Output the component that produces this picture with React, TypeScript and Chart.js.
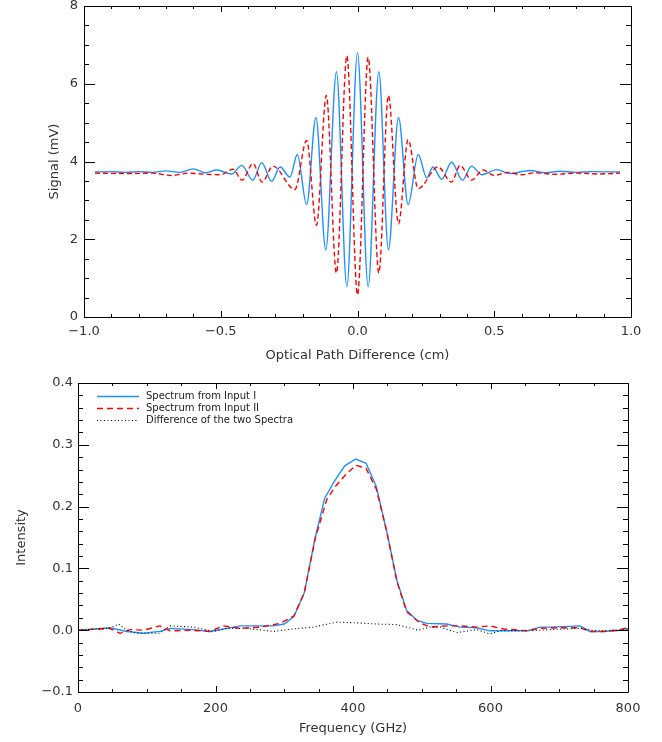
import React, { useEffect, useRef } from 'react';
import { Chart, registerables } from 'chart.js';
Chart.register(...registerables);

// ---------- Top panel: interferograms ----------
const opdI = [-0.96, -0.9, -0.85, -0.8, -0.75, -0.7, -0.65, -0.6, -0.555, -0.515, -0.46, -0.423, -0.383, -0.35, -0.314, -0.283, -0.247, -0.22, -0.186, -0.152, -0.116, -0.077, -0.039, 0, 0.039, 0.078, 0.113, 0.15, 0.185, 0.222, 0.253, 0.276, 0.308, 0.344, 0.384, 0.417, 0.454, 0.509, 0.557, 0.631, 0.686, 0.74, 0.8, 0.86, 0.96];
const signalI = [3.73, 3.74, 3.72, 3.74, 3.72, 3.76, 3.72, 3.81, 3.71, 3.78, 3.68, 3.9, 3.52, 3.97, 3.49, 3.86, 3.6, 4.18, 2.89, 5.13, 1.73, 6.31, 0.78, 6.8, 0.78, 6.31, 1.73, 5.13, 2.89, 4.18, 3.58, 3.86, 3.54, 3.98, 3.52, 3.88, 3.66, 3.79, 3.69, 3.77, 3.71, 3.75, 3.72, 3.74, 3.73];
const opdII = [-0.96, -0.85, -0.75, -0.68, -0.62, -0.55, -0.5, -0.455, -0.422, -0.382, -0.349, -0.309, -0.229, -0.186, -0.15, -0.114, -0.077, -0.039, 0, 0.039, 0.078, 0.113, 0.15, 0.185, 0.222, 0.294, 0.344, 0.375, 0.417, 0.459, 0.5, 0.55, 0.6, 0.65, 0.72, 0.8, 0.88, 0.96];
const signalII = [3.7, 3.69, 3.7, 3.64, 3.7, 3.67, 3.66, 3.8, 3.52, 3.95, 3.47, 3.88, 3.28, 4.54, 2.36, 5.7, 1.13, 6.72, 0.57, 6.68, 1.13, 5.7, 2.4, 4.56, 3.3, 3.86, 3.47, 3.9, 3.52, 3.78, 3.64, 3.72, 3.66, 3.71, 3.67, 3.7, 3.68, 3.7];

const topXTicks = [-1, -0.5, 0, 0.5, 1];
const topYTicks = [0, 2, 4, 6, 8];

// ---------- Bottom panel: spectra ----------
const freqI = [0, 25, 46, 71, 95, 119, 134, 168, 192, 236, 284, 300, 314, 329, 345, 359, 374, 388, 404, 419, 434, 449, 464, 478, 493, 507, 536, 556, 580, 599, 619, 653, 672, 687, 730, 745, 764, 783, 800];
const specI = [0.0, 0.002, 0.004, -0.002, -0.005, -0.002, 0.003, 0.001, -0.002, 0.007, 0.007, 0.01, 0.022, 0.06, 0.15, 0.214, 0.243, 0.266, 0.277, 0.27, 0.232, 0.16, 0.08, 0.032, 0.016, 0.011, 0.01, 0.005, 0.004, -0.001, -0.001, -0.001, 0.005, 0.005, 0.007, -0.002, -0.002, -0.001, 0.003];
const freqII = [0, 46, 61, 76, 95, 119, 134, 163, 192, 211, 236, 265, 294, 314, 329, 345, 362, 374, 388, 404, 419, 434, 449, 464, 478, 497, 512, 536, 556, 580, 599, 619, 653, 672, 696, 730, 745, 764, 783, 800];
const specII = [0.0, 0.003, -0.005, 0.001, 0.0, 0.007, -0.001, 0.0, -0.002, 0.007, 0.003, 0.005, 0.011, 0.023, 0.06, 0.148, 0.212, 0.232, 0.25, 0.267, 0.262, 0.228, 0.16, 0.078, 0.03, 0.012, 0.005, 0.007, 0.007, 0.005, 0.007, 0.002, -0.001, 0.003, 0.004, 0.004, -0.002, -0.002, 0.0, 0.004];
const freqDiff = [0, 46, 59, 71, 85, 119, 134, 168, 197, 216, 245, 284, 313, 342, 376, 404, 434, 464, 495, 512, 527, 551, 580, 599, 614, 657, 687, 730, 745, 764, 783, 800];
const specDiff = [0.0, 0.003, 0.01, 0.0, -0.005, -0.005, 0.007, 0.005, -0.002, 0.003, 0.003, -0.002, 0.002, 0.005, 0.013, 0.012, 0.01, 0.009, 0.0, 0.005, 0.005, -0.004, 0.001, -0.006, -0.001, -0.001, 0.001, 0.003, 0.0, -0.001, 0.0, 0.001];

const seriesLabels = ['Spectrum from Input I', 'Spectrum from Input II', 'Difference of the two Spectra'];

const BLUE = '#1e90ff';
const RED = '#ff0000';
const TEXT = '#333333';
const FONT = "'DejaVu Sans', sans-serif";

const fmt = (v: number, d: number) => {
  const s = (Math.abs(v) < 1e-9 ? 0 : v).toFixed(d);
  return s.replace('-', '\u2212');
};

const pts = (xs: number[], ys: number[]) => xs.map((x, i) => ({ x, y: ys[i] }));

const boxTicks = {
  id: 'boxTicks',
  afterDatasetsDraw(chart: any, _args: any, opts: any) {
    const { ctx, chartArea } = chart;
    const { left, right, top, bottom } = chartArea;
    const xs = chart.scales.x;
    const ys = chart.scales.y;
    const r = (p: number) => Math.round(p) + 0.5;
    ctx.save();
    ctx.strokeStyle = '#000';
    ctx.lineWidth = 1;
    ctx.beginPath();
    ctx.rect(r(left), r(top), Math.round(right) - Math.round(left), Math.round(bottom) - Math.round(top));
    const isMajor = (v: number, step: number) => Math.abs(v / step - Math.round(v / step)) < 1e-6;
    const nx = Math.round((xs.max - xs.min) / opts.xMinor);
    for (let i = 0; i <= nx; i++) {
      const v = xs.min + i * opts.xMinor;
      const px = r(xs.getPixelForValue(v));
      const len = isMajor(v, opts.xMajor) ? opts.xMajorLen : opts.xMinorLen;
      ctx.moveTo(px, bottom); ctx.lineTo(px, bottom - len);
      ctx.moveTo(px, top); ctx.lineTo(px, top + len);
    }
    const ny = Math.round((ys.max - ys.min) / opts.yMinor);
    for (let i = 0; i <= ny; i++) {
      const v = ys.min + i * opts.yMinor;
      const py = r(ys.getPixelForValue(v));
      const len = isMajor(v, opts.yMajor) ? opts.yMajorLen : opts.yMinorLen;
      ctx.moveTo(left, py); ctx.lineTo(left + len, py);
      ctx.moveTo(right, py); ctx.lineTo(right - len, py);
    }
    ctx.stroke();
    ctx.restore();
  },
};

const insideLegend = {
  id: 'insideLegend',
  afterDraw(chart: any, _args: any, opts: any) {
    if (!opts || !opts.show) return;
    const { ctx, chartArea } = chart;
    ctx.save();
    ctx.font = `10px ${FONT}`;
    ctx.textBaseline = 'middle';
    ctx.fillStyle = '#222';
    chart.data.datasets.forEach((ds: any, i: number) => {
      const y = Math.round(chartArea.top + 13 + 12 * i) + 0.5;
      const x0 = chartArea.left + 19;
      ctx.beginPath();
      ctx.strokeStyle = ds.borderColor;
      ctx.lineWidth = ds.borderWidth;
      ctx.setLineDash(ds.borderDash || []);
      ctx.moveTo(x0, y);
      ctx.lineTo(x0 + 42, y);
      ctx.stroke();
      ctx.setLineDash([]);
      ctx.fillText(ds.label, x0 + 49, y);
    });
    ctx.restore();
  },
};

Chart.register(boxTicks, insideLegend);

const axisTitle = (text: string, padding: any) => ({
  display: true,
  text,
  color: TEXT,
  font: { family: FONT, size: 13 },
  padding,
});

function TopChart() {
  const ref = useRef<HTMLCanvasElement>(null);
  useEffect(() => {
    const chart = new Chart(ref.current!, {
      type: 'line',
      data: {
        datasets: [
          {
            label: 'Input I',
            data: pts(opdI, signalI),
            borderColor: BLUE,
            borderWidth: 1.4,
            pointRadius: 0,
            cubicInterpolationMode: 'monotone',
            fill: false,
            order: 2,
          },
          {
            label: 'Input II',
            data: pts(opdII, signalII),
            borderColor: RED,
            borderWidth: 1.4,
            borderDash: [5, 3],
            pointRadius: 0,
            cubicInterpolationMode: 'monotone',
            fill: false,
            order: 1,
          },
        ],
      },
      options: {
        responsive: false,
        animation: false,
        layout: { padding: { top: 6, right: 31, left: 0, bottom: 0 } },
        plugins: {
          legend: { display: false },
          tooltip: { enabled: false },
          boxTicks: { xMinor: 0.1, xMajor: 0.5, xMajorLen: 6, xMinorLen: 3, yMinor: 0.5, yMajor: 2, yMajorLen: 11, yMinorLen: 5 },
        } as any,
        scales: {
          x: {
            type: 'linear',
            min: -1,
            max: 1,
            grid: { display: false, drawTicks: false },
            border: { display: false },
            afterBuildTicks: (s: any) => { s.ticks = topXTicks.map((v) => ({ value: v })); },
            ticks: { color: TEXT, font: { family: FONT, size: 13 }, padding: 7, maxRotation: 0, callback: (v: any) => fmt(Number(v), 1) },
            title: axisTitle('Optical Path Difference (cm)', { top: 0, bottom: 8 }),
            afterFit: (s: any) => { s.height = 54; },
          },
          y: {
            type: 'linear',
            min: 0,
            max: 8,
            grid: { display: false, drawTicks: false },
            border: { display: false },
            afterBuildTicks: (s: any) => { s.ticks = topYTicks.map((v) => ({ value: v })); },
            ticks: { color: TEXT, font: { family: FONT, size: 13 }, padding: 6, callback: (v: any) => fmt(Number(v), 0) },
            title: axisTitle('Signal (mV)', { top: 47, bottom: 0 }),
            afterFit: (s: any) => { s.width = 84; s.paddingTop = 0; s.paddingBottom = 0; },
          },
        },
      },
    });
    return () => chart.destroy();
  }, []);
  return <canvas ref={ref} width={662} height={371} style={{ display: 'block', width: 662, height: 371 }} />;
}

const botXTicks = [0, 200, 400, 600, 800];
const botYTicks = [-0.1, 0, 0.1, 0.2, 0.3, 0.4];

function BottomChart() {
  const ref = useRef<HTMLCanvasElement>(null);
  useEffect(() => {
    const chart = new Chart(ref.current!, {
      type: 'line',
      data: {
        datasets: [
          {
            label: seriesLabels[0],
            data: pts(freqI, specI),
            borderColor: BLUE,
            borderWidth: 1.4,
            pointRadius: 0,
            tension: 0,
            fill: false,
            order: 2,
          },
          {
            label: seriesLabels[1],
            data: pts(freqII, specII),
            borderColor: RED,
            borderWidth: 1.4,
            borderDash: [6, 4],
            pointRadius: 0,
            tension: 0,
            fill: false,
            order: 1,
          },
          {
            label: seriesLabels[2],
            data: pts(freqDiff, specDiff),
            borderColor: '#000000',
            borderWidth: 1.1,
            borderDash: [1, 2.5],
            pointRadius: 0,
            tension: 0,
            fill: false,
            order: 0,
          },
        ],
      },
      options: {
        responsive: false,
        animation: false,
        layout: { padding: { top: 12, right: 34, left: 0, bottom: 0 } },
        plugins: {
          legend: { display: false },
          tooltip: { enabled: false },
          insideLegend: { show: true },
          boxTicks: { xMinor: 50, xMajor: 200, xMajorLen: 6, xMinorLen: 3, yMinor: 0.02, yMajor: 0.1, yMajorLen: 11, yMinorLen: 5 },
        } as any,
        scales: {
          x: {
            type: 'linear',
            min: 0,
            max: 800,
            grid: { display: false, drawTicks: false },
            border: { display: false },
            afterBuildTicks: (s: any) => { s.ticks = botXTicks.map((v) => ({ value: v })); },
            ticks: { color: TEXT, font: { family: FONT, size: 13 }, padding: 9, maxRotation: 0, callback: (v: any) => fmt(Number(v), 0) },
            title: axisTitle('Frequency (GHz)', { top: 0, bottom: 6 }),
            afterFit: (s: any) => { s.height = 50; },
          },
          y: {
            type: 'linear',
            min: -0.1,
            max: 0.4,
            grid: { display: false, drawTicks: false },
            border: { display: false },
            afterBuildTicks: (s: any) => { s.ticks = botYTicks.map((v) => ({ value: v })); },
            ticks: { color: TEXT, font: { family: FONT, size: 13 }, padding: 5, callback: (v: any) => fmt(Number(v), 1) },
            title: axisTitle('Intensity', { top: 14, bottom: 0 }),
            afterFit: (s: any) => { s.width = 78; s.paddingTop = 0; s.paddingBottom = 0; },
          },
        },
      },
    });
    return () => chart.destroy();
  }, []);
  return <canvas ref={ref} width={662} height={371} style={{ display: 'block', width: 662, height: 371 }} />;
}

export default function App() {
  return (
    <div style={{ position: 'absolute', left: 0, top: 0, width: 662, height: 742, background: '#fff' }}>
      <TopChart />
      <BottomChart />
    </div>
  );
}
